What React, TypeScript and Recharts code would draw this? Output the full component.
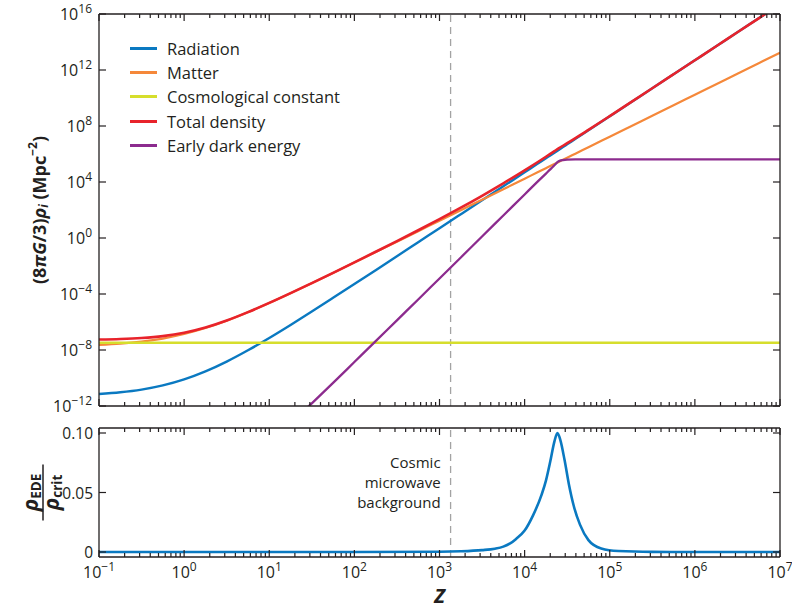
import { LineChart, Line, XAxis, YAxis, ReferenceLine, Legend } from 'recharts';

// redshift grid of the upper panel
const redshift = [
  0.1, 0.178, 0.316, 0.562, 1, 1.78, 3.16, 5.62, 10, 17.8, 31.6, 56.2, 100, 178, 316, 562, 1e3, 1.78e3, 3.16e3,
  5.62e3, 1e4, 1.4e4, 1.78e4, 2e4, 2.24e4, 2.51e4, 2.82e4, 3.16e4, 4e4, 5.62e4, 1e5, 1.78e5, 3.16e5, 5.62e5, 1e6,
  1.78e6, 3.16e6, 5.62e6, 1e7,
];

// (8πG/3) ρ_i in Mpc^-2
const radiation = [
  7.24e-12, 9.52e-12, 1.48e-11, 2.94e-11, 7.91e-11, 2.95e-10, 1.48e-9, 9.49e-9, 7.24e-8, 6.18e-7, 5.58e-6, 5.3e-5,
  5.14e-4, 5.07e-3, 4.99e-2, 0.497, 4.96, 49.7, 493, 4.93e3, 4.94e4, 1.9e5, 4.96e5, 7.91e5, 1.245e6, 1.963e6, 3.13e6,
  4.93e6, 1.265e7, 4.93e7, 4.94e8, 4.96e9, 4.93e10, 4.93e11, 4.94e12, 4.96e13, 4.93e14, 4.93e15, 4.94e16,
];
const matter = [
  2.29e-8, 2.81e-8, 3.93e-8, 6.56e-8, 1.38e-7, 3.7e-7, 1.24e-6, 5.0e-6, 2.29e-5, 1.14e-4, 5.97e-4, 3.22e-3, 1.77e-2,
  9.88e-2, 0.548, 3.07, 17.3, 97.2, 544, 3.06e3, 1.72e4, 4.73e4, 9.71e4, 1.378e5, 1.935e5, 2.72e5, 3.86e5, 5.43e5,
  1.1e6, 3.06e6, 1.72e7, 9.71e7, 5.43e8, 3.06e9, 1.72e10, 9.71e10, 5.43e11, 3.06e12, 1.72e13,
];
const cosmologicalConstant = [
  3.3e-8, 3.3e-8, 3.3e-8, 3.3e-8, 3.3e-8, 3.3e-8, 3.3e-8, 3.3e-8, 3.3e-8, 3.3e-8, 3.3e-8, 3.3e-8, 3.3e-8, 3.3e-8,
  3.3e-8, 3.3e-8, 3.3e-8, 3.3e-8, 3.3e-8, 3.3e-8, 3.3e-8, 3.3e-8, 3.3e-8, 3.3e-8, 3.3e-8, 3.3e-8, 3.3e-8, 3.3e-8,
  3.3e-8, 3.3e-8, 3.3e-8, 3.3e-8, 3.3e-8, 3.3e-8, 3.3e-8, 3.3e-8, 3.3e-8, 3.3e-8, 3.3e-8,
];
const totalDensity = [
  5.59e-8, 6.11e-8, 7.23e-8, 9.86e-8, 1.71e-7, 4.03e-7, 1.27e-6, 5.04e-6, 2.3e-5, 1.15e-4, 6.03e-4, 3.27e-3, 1.82e-2,
  0.104, 0.598, 3.57, 22.3, 147, 1.04e3, 8.03e3, 6.79e4, 2.47e5, 6.33e5, 1.008e6, 1.597e6, 2.535e6, 3.886e6, 5.873e6,
  1.416e7, 5.28e7, 5.11e8, 5.06e9, 4.98e10, 4.96e11, 4.96e12, 4.97e13, 4.94e14, 4.93e15, 4.94e16,
];
const earlyDarkEnergy = [
  null, null, null, null, null, null, null, null, null, 5.6e-14, 1.55e-12, 4.47e-11, 1.38e-9, 4.27e-8, 1.32e-6,
  4.07e-5, 1.29e-3, 4.07e-2, 1.29, 40.7, 1.29e3, 9.7e3, 4.0e4, 7.9e4, 1.58e5, 3.0e5, 3.7e5, 4.0e5, 4.12e5, 4.17e5,
  4.17e5, 4.17e5, 4.17e5, 4.17e5, 4.17e5, 4.17e5, 4.17e5, 4.17e5, 4.17e5,
];

// lower panel: ρ_EDE / ρ_crit
const fractionRedshift = [
  0.1, 1, 10, 100, 1e3, 1.78e3, 3.16e3, 4.47e3, 5.62e3, 6.76e3, 7.94e3, 1e4, 1.26e4, 1.58e4, 1.78e4, 2e4, 2.24e4,
  2.43e4, 2.63e4, 2.95e4, 3.31e4, 3.8e4, 4.47e4, 5.62e4, 7.94e4, 1.26e5, 3.16e5, 1e6, 1e7,
];
const edeFraction = [
  0, 0, 0, 0, 0.0002, 0.0006, 0.0016, 0.0028, 0.0045, 0.0072, 0.011, 0.018, 0.031, 0.048, 0.06, 0.076, 0.093, 0.1,
  0.094, 0.077, 0.057, 0.038, 0.023, 0.01, 0.003, 0.0008, 0.0001, 0, 0,
];

const cmbRedshift = 1350;

const xMajorTicks = [0.1, 1, 10, 100, 1e3, 1e4, 1e5, 1e6, 1e7];
const minorSteps = [2, 3, 4, 5, 6, 7, 8, 9];
const densityTicks = [1e-12, 1e-8, 1e-4, 1, 1e4, 1e8, 1e12, 1e16];
const fractionTicks = [0, 0.05, 0.1];
const fractionTickLabels = ['0', '0.05', '0.10'];

const xTicks = [
  ...xMajorTicks,
  ...xMajorTicks.slice(0, -1).flatMap((m) => minorSteps.map((k) => m * k)),
];

const densityRows = redshift.map((z, i) => ({
  z,
  radiation: radiation[i],
  matter: matter[i],
  lambda: cosmologicalConstant[i],
  total: totalDensity[i],
  ede: earlyDarkEnergy[i],
}));
const fractionRows = fractionRedshift.map((z, i) => ({ z, fraction: edeFraction[i] }));

const INK = '#231f20';
const series = [
  { key: 'radiation', name: 'Radiation', color: '#0a79c1', width: 2.4 },
  { key: 'matter', name: 'Matter', color: '#f5883a', width: 2.2 },
  { key: 'lambda', name: 'Cosmological constant', color: '#d6de2c', width: 2.6 },
  { key: 'total', name: 'Total density', color: '#e8232b', width: 2.6 },
  { key: 'ede', name: 'Early dark energy', color: '#8c2b8e', width: 2.3 },
];

const X_DOMAIN: [number, number] = [0.1, 1e7];

function PowerLabel({ x, y, value, anchor }: { x: number; y: number; value: number; anchor: 'middle' | 'end' }) {
  const exp = Math.round(Math.log10(value));
  return (
    <text x={x} y={y} textAnchor={anchor} fill={INK} fontSize={16}>
      10
      <tspan dy={-7} fontSize={12}>
        {exp < 0 ? `\u2212${-exp}` : exp}
      </tspan>
    </text>
  );
}

function XTick(props: any) {
  const { x, y, payload, side, labels } = props;
  const major = xMajorTicks.includes(payload.value);
  const len = major ? 7 : 4;
  const dir = side === 'top' ? 1 : -1;
  return (
    <g>
      <line x1={x} x2={x} y1={y} y2={y + dir * len} stroke={INK} strokeWidth={1.2} />
      {labels && major && <PowerLabel x={x} y={y + 21} value={payload.value} anchor="middle" />}
    </g>
  );
}

function YTick(props: any) {
  const { x, y, payload, side, format } = props;
  const dir = side === 'right' ? -1 : 1;
  return (
    <g>
      <line x1={x} x2={x + dir * 7} y1={y} y2={y} stroke={INK} strokeWidth={1.2} />
      {format === 'power' && <PowerLabel x={x - 7} y={y + 6} value={payload.value} anchor="end" />}
      {format === 'fraction' && (
        <text x={x - 6} y={y + 6} textAnchor="end" fill={INK} fontSize={15.5}>
          {fractionTickLabels[fractionTicks.indexOf(payload.value)]}
        </text>
      )}
    </g>
  );
}

function DensityLabel({ viewBox }: any) {
  const cx = viewBox.x + viewBox.width - 60;
  const cy = viewBox.y + viewBox.height / 2;
  return (
    <text
      transform={`rotate(-90 ${cx} ${cy})`}
      x={cx}
      y={cy}
      textAnchor="middle"
      dominantBaseline="central"
      fontWeight="bold"
      fontSize={18}
      fill={INK}
    >
      (8<tspan fontStyle="italic">πG</tspan>/3)<tspan fontStyle="italic">ρ</tspan>
      <tspan fontSize={12} dy={4} fontStyle="italic">
        i
      </tspan>
      <tspan dy={-4}> (Mpc</tspan>
      <tspan fontSize={12} dy={-7}>
        −2
      </tspan>
      <tspan dy={7}>)</tspan>
    </text>
  );
}

function FractionLabel({ viewBox }: any) {
  const cx = viewBox.x + viewBox.width - 56;
  const cy = viewBox.y + viewBox.height / 2;
  return (
    <g transform={`rotate(-90 ${cx} ${cy})`} fill={INK} fontWeight="bold">
      <text x={cx} y={cy - 5} textAnchor="middle" fontSize={21}>
        <tspan fontStyle="italic">ρ</tspan>
        <tspan fontSize={13.5} dy={3}>
          EDE
        </tspan>
      </text>
      <line x1={cx - 28} x2={cx + 28} y1={cy} y2={cy} stroke={INK} strokeWidth={1.5} />
      <text x={cx} y={cy + 16} textAnchor="middle" fontSize={21}>
        <tspan fontStyle="italic">ρ</tspan>
        <tspan fontSize={13.5} dy={3}>
          crit
        </tspan>
      </text>
    </g>
  );
}

function RedshiftLabel({ viewBox }: any) {
  return (
    <text
      x={viewBox.x + viewBox.width / 2}
      y={viewBox.y + 46}
      textAnchor="middle"
      fontSize={20}
      fontWeight="bold"
      fontStyle="italic"
      fill={INK}
    >
      Z
    </text>
  );
}

function CmbLabel({ viewBox }: any) {
  const x = viewBox.x - 10;
  return (
    <text textAnchor="end" fontSize={15} fill={INK}>
      <tspan x={x} y={viewBox.y + 40}>
        Cosmic
      </tspan>
      <tspan x={x} y={viewBox.y + 60}>
        microwave
      </tspan>
      <tspan x={x} y={viewBox.y + 80}>
        background
      </tspan>
    </text>
  );
}

function LegendBox() {
  return (
    <div style={{ color: INK, fontSize: 16.5 }}>
      {series.map((s) => (
        <div key={s.key} style={{ display: 'flex', alignItems: 'center', height: 24.3 }}>
          <span style={{ display: 'inline-block', width: 27, height: 3, background: s.color, marginRight: 10 }} />
          <span>{s.name}</span>
        </div>
      ))}
    </div>
  );
}

const axisLine = { stroke: INK, strokeWidth: 1.3 };

export default function App() {
  return (
    <div
      style={{
        position: 'absolute',
        left: 0,
        top: 0,
        width: 792,
        height: 608,
        background: '#fff',
        fontFamily: '"Open Sans", sans-serif',
      }}
    >
      <div style={{ position: 'absolute', left: 0, top: 0 }}>
        <LineChart width={792} height={416} data={densityRows} margin={{ top: 4, right: 2, bottom: 0, left: 59 }}>
          <XAxis
            dataKey="z"
            type="number"
            scale="log"
            domain={X_DOMAIN}
            allowDataOverflow
            ticks={xTicks}
            interval={0}
            height={10}
            tickSize={0}
            tickMargin={0}
            axisLine={axisLine}
            tick={(p: any) => <XTick {...p} side="bottom" />}
          />
          <XAxis
            xAxisId="top"
            orientation="top"
            dataKey="z"
            type="number"
            scale="log"
            domain={X_DOMAIN}
            allowDataOverflow
            ticks={xTicks}
            interval={0}
            height={10}
            tickSize={0}
            tickMargin={0}
            axisLine={axisLine}
            tick={(p: any) => <XTick {...p} side="top" />}
          />
          <YAxis
            type="number"
            scale="log"
            domain={[1e-12, 1e16]}
            allowDataOverflow
            ticks={densityTicks}
            interval={0}
            width={40}
            tickSize={0}
            tickMargin={0}
            axisLine={axisLine}
            tick={(p: any) => <YTick {...p} side="left" format="power" />}
            label={{ content: DensityLabel }}
          />
          <YAxis
            yAxisId="right"
            orientation="right"
            type="number"
            scale="log"
            domain={[1e-12, 1e16]}
            allowDataOverflow
            ticks={densityTicks}
            interval={0}
            width={10}
            tickSize={0}
            tickMargin={0}
            axisLine={axisLine}
            tick={(p: any) => <YTick {...p} side="right" />}
          />
          <ReferenceLine x={cmbRedshift} stroke="#a3a3a3" strokeWidth={1.3} strokeDasharray="7 5" />
          <Legend
            layout="vertical"
            align="center"
            verticalAlign="middle"
            content={() => <LegendBox />}
            wrapperStyle={{ left: 130, top: 36, width: 'auto', height: 'auto' }}
          />
          {series.map((s) => (
            <Line
              key={s.key}
              dataKey={s.key}
              name={s.name}
              type="monotone"
              stroke={s.color}
              strokeWidth={s.width}
              dot={false}
              activeDot={false}
              isAnimationActive={false}
            />
          ))}
        </LineChart>
      </div>
      <div style={{ position: 'absolute', left: 0, top: 416 }}>
        <LineChart width={792} height={192} data={fractionRows} margin={{ top: 2, right: 2, bottom: 11, left: 59 }}>
          <XAxis
            dataKey="z"
            type="number"
            scale="log"
            domain={X_DOMAIN}
            allowDataOverflow
            ticks={xTicks}
            interval={0}
            height={40}
            tickSize={0}
            tickMargin={0}
            axisLine={axisLine}
            tick={(p: any) => <XTick {...p} side="bottom" labels />}
            label={{ content: RedshiftLabel }}
          />
          <XAxis
            xAxisId="top"
            orientation="top"
            dataKey="z"
            type="number"
            scale="log"
            domain={X_DOMAIN}
            allowDataOverflow
            ticks={xTicks}
            interval={0}
            height={10}
            tickSize={0}
            tickMargin={0}
            axisLine={axisLine}
            tick={(p: any) => <XTick {...p} side="top" />}
          />
          <YAxis
            type="number"
            domain={[-0.0042, 0.1042]}
            allowDataOverflow
            ticks={fractionTicks}
            interval={0}
            width={40}
            tickSize={0}
            tickMargin={0}
            axisLine={axisLine}
            tick={(p: any) => <YTick {...p} side="left" format="fraction" />}
            label={{ content: FractionLabel }}
          />
          <YAxis
            yAxisId="right"
            orientation="right"
            type="number"
            domain={[-0.0042, 0.1042]}
            allowDataOverflow
            ticks={fractionTicks}
            interval={0}
            width={10}
            tickSize={0}
            tickMargin={0}
            axisLine={axisLine}
            tick={(p: any) => <YTick {...p} side="right" />}
          />
          <ReferenceLine
            x={cmbRedshift}
            stroke="#a3a3a3"
            strokeWidth={1.3}
            strokeDasharray="7 5"
            label={{ content: CmbLabel }}
          />
          <Line
            dataKey="fraction"
            type="monotone"
            stroke="#0a79c1"
            strokeWidth={2.6}
            dot={false}
            activeDot={false}
            isAnimationActive={false}
          />
        </LineChart>
      </div>
    </div>
  );
}
